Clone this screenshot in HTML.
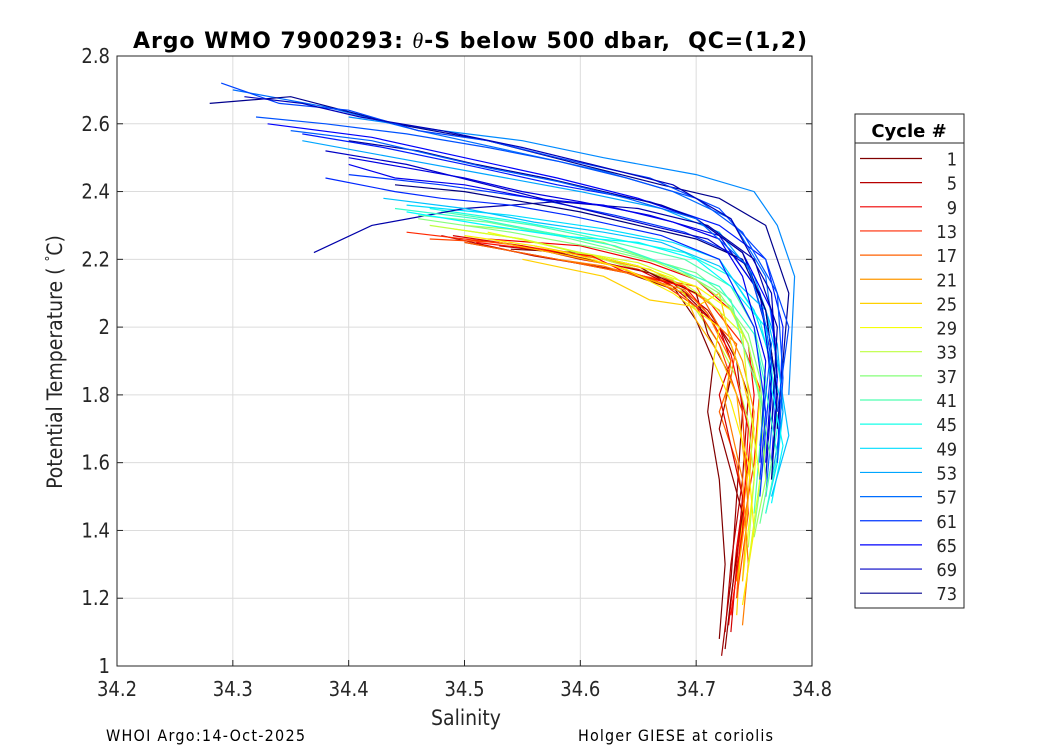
<!DOCTYPE html>
<html><head><meta charset="utf-8"><style>
body{margin:0;background:#fff;}
svg text{font-family:"DejaVu Sans","Liberation Sans",sans-serif;}
.n{font-family:"DejaVu Sans Condensed","DejaVu Sans","Liberation Sans",sans-serif;}
</style></head><body>
<svg id="chart" width="1050" height="750" xmlns="http://www.w3.org/2000/svg">
<rect width="1050" height="750" fill="#fff"/>
<g id="grid"></g>
<g id="lines"></g>
<g id="axes"></g>
<text x="470" y="48" text-anchor="middle" font-size="22" font-weight="bold" textLength="674" style="white-space:pre">Argo WMO 7900293: <tspan font-style="italic" font-family="Liberation Serif,serif" font-weight="normal">θ</tspan>-S below 500 dbar,  QC=(1,2)</text>
<text class="n" x="466" y="725" text-anchor="middle" font-size="21" fill="#262626">Salinity</text>
<text class="n" transform="translate(62,362) rotate(-90)" text-anchor="middle" font-size="21" fill="#262626">Potential Temperature ( <tspan baseline-shift="super" font-size="13">°</tspan>C)</text>
<text class="n" x="106" y="741" font-size="16" textLength="199">WHOI Argo:14-Oct-2025</text>
<text class="n" x="578" y="741" font-size="16" textLength="195">Holger GIESE at coriolis</text>
<g id="legend"></g>
</svg>
<script>
const ticksX=[34.2,34.3,34.4,34.5,34.6,34.7,34.8];
const ticksY=[1,1.2,1.4,1.6,1.8,2,2.2,2.4,2.6,2.8];
const legendCycles=[1,5,9,13,17,21,25,29,33,37,41,45,49,53,57,61,65,69,73];
const cycles=[1,3,5,9,13,17,21,25,29,33,37,41,45,49,53,55,57,61,63,65,69,71,73,
  2,7,11,15,19,23,27,31,35,39,43,47,51,59,67,72,74,60,66,58,70,62];
const sal=[
[34.54,34.6,34.65,34.68,34.7,34.715,34.71,34.72,34.725,34.72],
[34.5,34.58,34.64,34.69,34.72,34.735,34.74,34.735,34.73,34.722],
[34.48,34.56,34.63,34.68,34.71,34.73,34.745,34.74,34.73,34.725],
[34.52,34.6,34.66,34.7,34.73,34.745,34.75,34.745,34.735,34.728],
[34.45,34.55,34.62,34.67,34.71,34.74,34.755,34.75,34.74,34.73],
[34.5,34.58,34.64,34.7,34.72,34.735,34.73,34.72,34.735,34.74,34.735],
[34.56,34.62,34.66,34.69,34.72,34.74,34.75,34.745,34.735],
[34.55,34.62,34.66,34.7,34.72,34.73,34.74,34.75,34.74,34.735],
[34.52,34.6,34.65,34.7,34.73,34.745,34.755,34.75,34.74],
[34.47,34.55,34.62,34.68,34.7,34.72,34.735,34.745,34.75,34.745],
[34.46,34.54,34.62,34.68,34.72,34.745,34.755,34.76,34.75],
[34.48,34.56,34.63,34.69,34.73,34.75,34.76,34.755,34.75],
[34.47,34.55,34.63,34.69,34.73,34.755,34.765,34.77,34.76],
[34.45,34.54,34.62,34.68,34.72,34.75,34.765,34.775,34.77,34.76],
[34.36,34.44,34.52,34.6,34.67,34.72,34.75,34.77,34.775,34.765],
[34.4,34.48,34.55,34.62,34.7,34.75,34.77,34.785,34.78],
[34.3,34.38,34.46,34.54,34.62,34.68,34.73,34.76,34.77,34.765,34.76],
[34.4,34.48,34.56,34.63,34.69,34.73,34.755,34.765,34.76,34.755],
[34.36,34.43,34.5,34.58,34.66,34.72,34.76,34.775,34.77],
[34.33,34.42,34.5,34.58,34.65,34.7,34.74,34.765,34.77,34.765],
[34.38,34.45,34.52,34.6,34.66,34.71,34.745,34.76,34.765,34.76],
[34.37,34.42,34.5,34.58,34.65,34.71,34.75,34.77,34.765],
[34.28,34.35,34.44,34.52,34.6,34.67,34.72,34.76,34.78,34.775,34.77],
[34.53,34.58,34.62,34.66,34.7,34.71,34.73,34.72,34.74,34.73,34.725],
[34.49,34.55,34.6,34.65,34.68,34.72,34.73,34.72,34.74,34.735,34.73],
[34.51,34.56,34.61,34.64,34.69,34.71,34.73,34.745,34.74,34.73],
[34.47,34.53,34.59,34.63,34.67,34.7,34.72,34.74,34.745,34.735],
[34.58,34.62,34.65,34.69,34.71,34.73,34.725,34.74,34.745,34.74],
[34.53,34.59,34.63,34.66,34.69,34.7,34.72,34.735,34.745,34.74],
[34.5,34.56,34.6,34.64,34.68,34.72,34.715,34.73,34.745,34.75,34.74],
[34.49,34.55,34.6,34.65,34.68,34.71,34.74,34.745,34.755,34.745],
[34.5,34.57,34.62,34.66,34.7,34.73,34.745,34.755,34.76,34.75],
[34.46,34.52,34.58,34.64,34.7,34.73,34.74,34.755,34.765,34.755],
[34.44,34.51,34.57,34.63,34.67,34.72,34.75,34.76,34.77,34.76],
[34.45,34.52,34.58,34.65,34.7,34.73,34.76,34.765,34.775,34.765],
[34.43,34.5,34.56,34.62,34.67,34.72,34.76,34.77,34.78,34.765],
[34.32,34.38,34.45,34.52,34.58,34.64,34.7,34.74,34.77,34.775,34.77],
[34.4,34.45,34.5,34.55,34.6,34.66,34.72,34.755,34.765,34.76],
[34.4,34.46,34.51,34.57,34.62,34.67,34.7,34.74,34.76,34.77],
[34.44,34.5,34.55,34.6,34.65,34.7,34.74,34.76,34.77,34.765],
[34.29,34.34,34.4,34.46,34.52,34.58,34.66,34.72,34.76,34.78,34.77],
[34.4,34.44,34.5,34.56,34.62,34.68,34.72,34.74,34.76,34.755],
[34.35,34.42,34.47,34.52,34.58,34.64,34.7,34.745,34.765,34.755],
[34.31,34.36,34.41,34.48,34.55,34.61,34.68,34.73,34.765,34.77],
[34.38,34.44,34.48,34.54,34.59,34.63,34.67,34.72,34.75,34.76,34.755],
[34.42,34.46,34.53,34.57,34.62,34.69,34.73,34.76,34.77,34.765]
];
const temp=[
[2.23,2.22,2.18,2.12,2.02,1.9,1.75,1.55,1.3,1.08],
[2.25,2.2,2.16,2.1,2.0,1.9,1.75,1.5,1.25,1.03],
[2.27,2.21,2.17,2.13,2.05,1.95,1.8,1.55,1.3,1.1],
[2.26,2.24,2.19,2.14,2.05,1.95,1.8,1.6,1.35,1.12],
[2.28,2.24,2.2,2.15,2.08,1.95,1.82,1.6,1.4,1.15],
[2.25,2.2,2.16,2.12,2.0,1.95,1.85,1.75,1.6,1.5,1.2],
[2.24,2.2,2.17,2.12,2.05,1.9,1.75,1.5,1.25],
[2.2,2.15,2.08,2.06,2.1,1.95,1.85,1.7,1.45,1.15],
[2.28,2.22,2.18,2.12,2.05,1.95,1.8,1.55,1.25],
[2.3,2.26,2.2,2.14,2.05,1.95,1.85,1.72,1.55,1.35],
[2.32,2.28,2.23,2.18,2.1,1.98,1.85,1.65,1.4],
[2.34,2.3,2.25,2.2,2.12,2.0,1.85,1.65,1.45],
[2.35,2.31,2.26,2.22,2.15,2.02,1.88,1.7,1.5],
[2.36,2.33,2.29,2.25,2.2,2.05,1.9,1.75,1.6,1.45],
[2.55,2.5,2.45,2.4,2.35,2.28,2.15,1.95,1.75,1.55],
[2.62,2.58,2.55,2.5,2.45,2.4,2.3,2.15,1.8],
[2.7,2.65,2.58,2.52,2.46,2.4,2.32,2.15,1.9,1.7,1.5],
[2.45,2.42,2.38,2.33,2.28,2.22,2.1,1.9,1.7,1.5],
[2.57,2.53,2.48,2.42,2.37,2.3,2.2,2.0,1.6],
[2.6,2.56,2.5,2.44,2.38,2.32,2.22,2.05,1.85,1.6],
[2.52,2.48,2.42,2.35,2.3,2.26,2.18,2.0,1.8,1.55],
[2.22,2.3,2.35,2.37,2.35,2.3,2.2,2.0,1.7],
[2.66,2.68,2.6,2.55,2.48,2.42,2.38,2.3,2.1,1.9,1.7],
[2.24,2.22,2.19,2.16,2.1,1.98,1.85,1.7,1.45,1.2,1.05],
[2.27,2.24,2.2,2.17,2.12,2.0,1.9,1.8,1.5,1.3,1.1],
[2.25,2.23,2.21,2.16,2.12,2.04,1.92,1.7,1.4,1.15],
[2.26,2.25,2.21,2.18,2.13,2.06,1.95,1.75,1.45,1.2],
[2.2,2.18,2.15,2.11,2.04,1.9,1.78,1.55,1.3,1.12],
[2.25,2.21,2.18,2.14,2.1,2.02,1.92,1.8,1.5,1.25],
[2.27,2.24,2.21,2.17,2.1,2.0,1.9,1.78,1.6,1.4,1.18],
[2.29,2.26,2.22,2.19,2.15,2.08,1.98,1.8,1.55,1.3],
[2.3,2.28,2.25,2.2,2.14,2.06,1.95,1.78,1.55,1.38],
[2.33,2.31,2.27,2.22,2.16,2.08,1.95,1.8,1.6,1.42],
[2.35,2.32,2.28,2.24,2.19,2.12,1.98,1.82,1.62,1.45],
[2.34,2.3,2.27,2.25,2.2,2.12,2.0,1.82,1.65,1.48],
[2.38,2.35,2.31,2.28,2.25,2.18,2.05,1.9,1.68,1.5],
[2.62,2.6,2.57,2.53,2.49,2.44,2.38,2.28,2.1,1.85,1.6],
[2.5,2.47,2.44,2.4,2.37,2.33,2.27,2.1,1.85,1.6],
[2.55,2.52,2.48,2.44,2.4,2.36,2.32,2.22,2.05,1.8],
[2.42,2.4,2.37,2.34,2.3,2.26,2.2,2.05,1.8,1.55],
[2.72,2.66,2.64,2.58,2.55,2.5,2.44,2.35,2.2,2.0,1.75],
[2.48,2.44,2.42,2.38,2.36,2.31,2.26,2.15,1.9,1.6],
[2.58,2.55,2.51,2.47,2.43,2.38,2.32,2.18,1.95,1.65],
[2.68,2.66,2.62,2.58,2.53,2.48,2.42,2.32,2.1,1.85],
[2.44,2.4,2.38,2.36,2.33,2.3,2.27,2.2,2.0,1.75,1.55],
[2.5,2.47,2.44,2.42,2.4,2.36,2.3,2.12,1.9,1.65]
];
const NS="http://www.w3.org/2000/svg";
const X0=117,X1=812,Y0=666,Y1=56;
function xs(s){return X0+(s-34.2)/0.6*(X1-X0);}
function ys(t){return Y0-(t-1)/1.8*(Y0-Y1);}
function jet(c){
  const v=(c-1)/73;
  const u=1-v;
  const r=Math.max(0,Math.min(1,1.5-Math.abs(4*u-3)));
  const g=Math.max(0,Math.min(1,1.5-Math.abs(4*u-2)));
  const b=Math.max(0,Math.min(1,1.5-Math.abs(4*u-1)));
  return `rgb(${Math.round(r*255)},${Math.round(g*255)},${Math.round(b*255)})`;
}
function mk(tag,attrs,parent){const e=document.createElementNS(NS,tag);for(const k in attrs)e.setAttribute(k,attrs[k]);parent.appendChild(e);return e;}
const grid=document.getElementById('grid'),axes=document.getElementById('axes'),lines=document.getElementById('lines'),leg=document.getElementById('legend');
ticksX.forEach(t=>{
  const l=mk('line',{x1:xs(t),x2:xs(t),y1:Y0,y2:Y1,stroke:'#dcdcdc','stroke-width':1},grid);
  
  
  mk('line',{x1:xs(t),x2:xs(t),y1:Y0,y2:Y0-6,stroke:'#262626'},axes);
  const tx=mk('text',{x:xs(t),y:Y0+30,'text-anchor':'middle','font-size':20,fill:'#262626','class':'n'},axes);
  tx.textContent=t.toFixed(1);
  
  
});
ticksY.forEach(t=>{
  const l=mk('line',{x1:X0,x2:X1,y1:ys(t),y2:ys(t),stroke:'#dcdcdc','stroke-width':1},grid);
  
  
  mk('line',{x1:X0,x2:X0+6,y1:ys(t),y2:ys(t),stroke:'#262626'},axes);
  mk('line',{x1:X1,x2:X1-6,y1:ys(t),y2:ys(t),stroke:'#262626'},axes);
  const tx=mk('text',{x:X0-7,y:ys(t)+7,'text-anchor':'end','font-size':20,fill:'#262626','class':'n'},axes);
  tx.textContent=(t===1||t===2)?String(t):t.toFixed(1);
  
  
});
const frame=mk('rect',{x:X0,y:Y1,width:X1-X0,height:Y0-Y1,fill:'none',stroke:'#262626','stroke-width':1},axes);


cycles.forEach((c,i)=>{
  const pts=sal[i].map((s,j)=>xs(s).toFixed(1)+','+ys(temp[i][j]).toFixed(1)).join(' ');
  const p=mk('polyline',{points:pts,fill:'none',stroke:jet(c),'stroke-width':1.2},lines);
  
  
});
const lb=mk('rect',{x:855,y:114,width:109,height:494,fill:'#fff',stroke:'#262626'},leg);


mk('line',{x1:855,x2:964,y1:143,y2:143,stroke:'#262626'},leg);
const lt=mk('text',{x:909,y:137,'text-anchor':'middle','font-size':18,'font-weight':'bold'},leg);
lt.textContent='Cycle #';


legendCycles.forEach((c,i)=>{
  const y=158.5+i*24.15;
  const l=mk('line',{x1:860,x2:922,y1:y,y2:y,stroke:jet(c),'stroke-width':1.2},leg);
  
  
  const t=mk('text',{x:957,y:y+7,'text-anchor':'end','font-size':18,fill:'#262626','class':'n'},leg);
  t.textContent=c;
  
  
});
</script>
</body></html>
